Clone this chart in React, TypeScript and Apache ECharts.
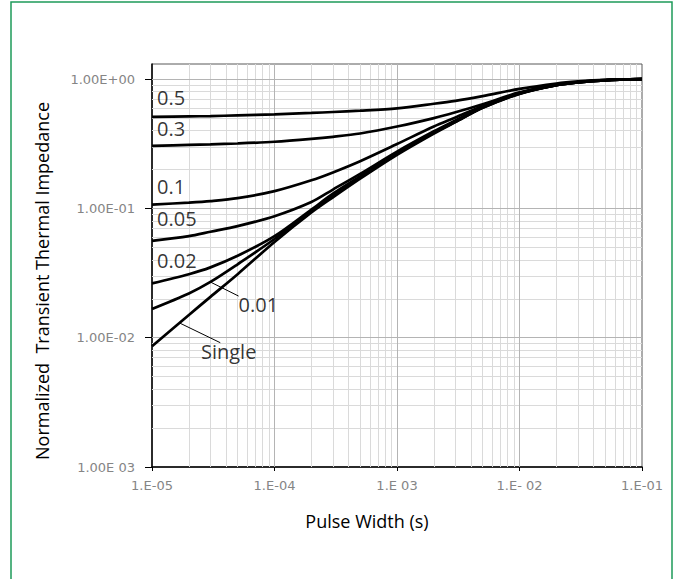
import React, { useEffect, useRef } from "react";
import * as echarts from "echarts";

// Pulse width (s) sample points
const pulseWidths = [
  1e-5, 2e-5, 3e-5, 5e-5, 1e-4, 2e-4, 3e-4, 5e-4, 1e-3, 2e-3, 3e-3, 5e-3, 1e-2, 2e-2, 3e-2, 5e-2, 1e-1,
];

// Normalized transient thermal impedance per duty cycle
const duty05 = [0.51, 0.515, 0.518, 0.525, 0.535, 0.548, 0.557, 0.57, 0.595, 0.645, 0.68, 0.74, 0.84, 0.925, 0.96, 0.988, 1.0];
const duty03 = [0.305, 0.31, 0.313, 0.318, 0.328, 0.345, 0.358, 0.38, 0.43, 0.5, 0.555, 0.64, 0.79, 0.905, 0.95, 0.985, 1.0];
const duty01 = [0.107, 0.111, 0.114, 0.12, 0.136, 0.165, 0.19, 0.232, 0.315, 0.43, 0.505, 0.62, 0.78, 0.905, 0.948, 0.983, 1.0];
const duty005 = [0.0562, 0.061, 0.066, 0.073, 0.087, 0.112, 0.14, 0.185, 0.275, 0.395, 0.48, 0.61, 0.78, 0.9, 0.945, 0.98, 1.0];
const duty002 = [0.0263, 0.031, 0.035, 0.043, 0.061, 0.098, 0.13, 0.177, 0.268, 0.388, 0.47, 0.605, 0.776, 0.9, 0.945, 0.98, 1.0];
const duty001 = [0.0167, 0.022, 0.027, 0.037, 0.058, 0.096, 0.127, 0.173, 0.264, 0.384, 0.468, 0.602, 0.773, 0.9, 0.945, 0.98, 1.0];
const single = [0.0086, 0.015, 0.0207, 0.031, 0.055, 0.093, 0.122, 0.17, 0.26, 0.38, 0.466, 0.6, 0.77, 0.9, 0.945, 0.98, 1.0];

const curveNames = ["0.5", "0.3", "0.1", "0.05", "0.02", "0.01", "Single"];
const curveValues = [duty05, duty03, duty01, duty005, duty002, duty001, single];

// Tick labels
const xTickValues = [1e-5, 1e-4, 1e-3, 1e-2, 1e-1];
const xTickLabels = ["1.E-05", "1.E-04", "1.E 03", "1.E- 02", "1.E-01"];
const yTickValues = [1e-3, 1e-2, 1e-1, 1];
const yTickLabels = ["1.00E 03", "1.00E-02", "1.00E-01", "1.00E+00"];

// Curve annotations (data coordinates)
const labelTexts = ["0.5", "0.3", "0.1", "0.05", "0.02", "0.01", "Single"];
const labelX = [1.1e-5, 1.1e-5, 1.1e-5, 1.1e-5, 1.1e-5, 5.09e-5, 2.51e-5];
const labelY = [0.723, 0.413, 0.147, 0.0836, 0.0397, 0.0182, 0.00776];
const leaderFrom = [[2.99e-5, 0.027], [1.68e-5, 0.013]];
const leaderTo = [[5.09e-5, 0.021], [3.61e-5, 0.00915]];

const minorMultipliers = [2, 3, 4, 5, 6, 7, 8, 9];

function labelFor(values: number[], labels: string[], v: number) {
  for (let i = 0; i < values.length; i++) {
    if (Math.abs(Math.log10(v) - Math.log10(values[i])) < 0.01) return labels[i];
  }
  return "";
}

export default function App() {
  const ref = useRef<HTMLDivElement>(null);

  useEffect(() => {
    document.body.style.margin = "0";
    if (!ref.current) return;
    const chart = echarts.init(ref.current, undefined, { renderer: "svg" });

    const minorX: number[] = [];
    for (let i = 0; i < xTickValues.length - 1; i++) {
      minorMultipliers.forEach((m) => minorX.push(xTickValues[i] * m));
    }
    const minorY: number[] = [];
    for (let i = 0; i < yTickValues.length - 1; i++) {
      minorMultipliers.forEach((m) => minorY.push(yTickValues[i] * m));
    }

    const minorColor = "#dadada";
    const majorColor = "#b4b4b4";

    const gridLines = [
      ...minorX.map((v) => ({ xAxis: v, lineStyle: { color: minorColor, width: 1, type: "solid" } })),
      ...minorY.map((v) => ({ yAxis: v, lineStyle: { color: minorColor, width: 1, type: "solid" } })),
      ...xTickValues.slice(1, -1).map((v) => ({ xAxis: v, lineStyle: { color: majorColor, width: 1, type: "solid" } })),
      ...yTickValues.slice(1).map((v) => ({ yAxis: v, lineStyle: { color: majorColor, width: 1, type: "solid" } })),
    ];

    const tickFont = { fontFamily: "DejaVu Sans", fontSize: 13, color: "#858585" };

    const option: any = {
      animation: false,
      grid: {
        left: 152,
        right: 34,
        top: 64,
        bottom: 112,
        show: true,
        borderColor: "#595959",
        borderWidth: 1,
        backgroundColor: "transparent",
      },
      graphic: [
        {
          type: "rect",
          shape: { x: 11, y: 2, width: 661, height: 600 },
          style: { fill: "none", stroke: "#1e9a5a", lineWidth: 1.5 },
          silent: true,
        },
      ],
      xAxis: {
        type: "log",
        logBase: 10,
        min: 1e-5,
        max: 1e-1,
        name: "Pulse Width (s)",
        nameLocation: "middle",
        nameGap: 45,
        nameTextStyle: { fontFamily: "Open Sans", fontSize: 18, color: "#000", padding: [0, 60, 0, 0] },
        axisLine: { show: true, lineStyle: { color: "#000", width: 1.5 } },
        axisTick: { show: true, length: 4, lineStyle: { color: "#000" }, customValues: xTickValues },
        axisLabel: {
          ...tickFont,
          margin: 12,
          customValues: xTickValues,
          formatter: (v: number) => labelFor(xTickValues, xTickLabels, v),
        },
        splitLine: { show: false },
        minorTick: { show: false },
      },
      yAxis: {
        type: "log",
        logBase: 10,
        min: 1e-3,
        max: 1.31,
        name: "Normalized  Transient Thermal Impedance",
        nameLocation: "middle",
        nameRotate: 90,
        nameGap: 101,
        nameTextStyle: { fontFamily: "Open Sans", fontSize: 18, color: "#000", padding: [0, 31, 0, 0] },
        axisLine: { show: true, lineStyle: { color: "#000", width: 1.5 } },
        axisTick: { show: true, length: 7, lineStyle: { color: "#000" }, customValues: yTickValues },
        axisLabel: {
          ...tickFont,
          margin: 17,
          customValues: yTickValues,
          formatter: (v: number) => labelFor(yTickValues, yTickLabels, v),
        },
        splitLine: { show: false },
      },
      series: [
        {
          type: "line",
          name: "grid",
          z: 1,
          silent: true,
          data: [[1e-5, 1e-3]],
          showSymbol: false,
          lineStyle: { opacity: 0 },
          markLine: {
            silent: true,
            z: 1,
            symbol: "none",
            precision: 12,
            label: { show: false },
            data: gridLines,
          },
        },
        ...curveNames.map((name, i) => ({
          type: "line",
          name,
          z: 3,
          data: pulseWidths.map((x, j) => [x, curveValues[i][j]]),
          smooth: 0.3,
          showSymbol: false,
          symbol: "none",
          lineStyle: { color: "#000", width: 2.7 },
        })),
        {
          type: "scatter",
          name: "labels",
          z: 6,
          silent: true,
          symbolSize: 0,
          data: labelTexts.map((t, i) => ({ name: t, value: [labelX[i], labelY[i]] })),
          label: {
            show: true,
            position: [0, 0],
            align: "left",
            verticalAlign: "middle",
            formatter: (p: any) => p.name,
            fontFamily: "Open Sans",
            fontSize: 20,
            color: "#000",
          },
          markLine: {
            silent: true,
            z: 6,
            symbol: "none",
            precision: 12,
            label: { show: false },
            lineStyle: { color: "#000", width: 1, type: "solid" },
            data: leaderFrom.map((f, i) => [{ coord: f }, { coord: leaderTo[i] }]),
          },
        },
      ],
    };

    chart.setOption(option);
    return () => chart.dispose();
  }, []);

  return <div ref={ref} style={{ width: 676, height: 579 }} />;
}
